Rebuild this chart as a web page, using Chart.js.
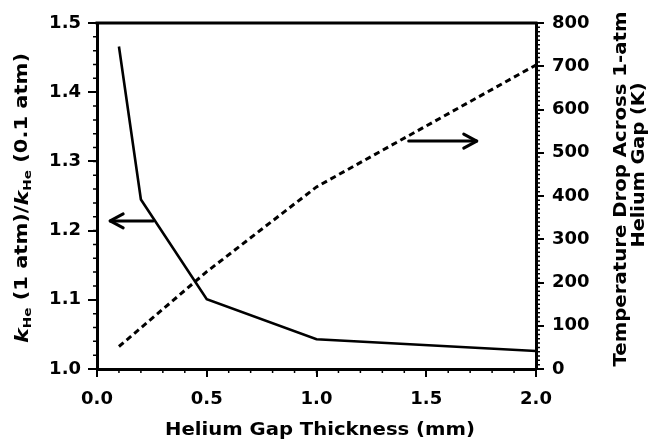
<!DOCTYPE html>
<html>
<head>
<meta charset="utf-8">
<script src="https://cdn.jsdelivr.net/npm/chart.js@4/dist/chart.umd.min.js"></script>
<style>
  html, body { margin: 0; padding: 0; background: #fff; }
  #c { display: block; }
</style>
</head>
<body>
<canvas id="c" width="650" height="440"></canvas>
<script>
// ---- data ----
const gapThickness = [0.1, 0.2, 0.5, 1.0, 2.0];            // mm
const conductivityRatio = [1.466, 1.245, 1.101, 1.043, 1.026]; // kHe(1 atm)/kHe(0.1 atm)
const tempGap = [0.1, 0.2, 0.5, 1.0, 2.0];                 // mm
const tempDrop = [52, 95, 225, 421, 703];                   // K
const xTickValues = [0.0, 0.5, 1.0, 1.5, 2.0];
const leftTickValues = [1.0, 1.1, 1.2, 1.3, 1.4, 1.5];
const rightTickValues = [0, 100, 200, 300, 400, 500, 600, 700, 800];
const xTitle = 'Helium Gap Thickness (mm)';
const rightTitle = ['Temperature Drop Across 1-atm', 'Helium Gap (K)'];
// arrows pointing to the axis each curve belongs to
const leftArrow = { fromX: 0.255, toX: 0.06, y: 1.214 };
const rightArrow = { fromX: 1.42, toX: 1.73, y: 527 };

const FONT = '"DejaVu Sans", "Liberation Sans", Arial, sans-serif';
const tickFont = { family: FONT, size: 18, weight: 'bold' };

function drawArrow(ctx, x1, y1, x2, y2) {
  const dir = Math.sign(x2 - x1);
  ctx.beginPath();
  ctx.moveTo(x1, y1);
  ctx.lineTo(x2, y2);
  ctx.stroke();
  ctx.beginPath();
  ctx.moveTo(x2 - dir * 13, y2 - 7);
  ctx.lineTo(x2, y2);
  ctx.lineTo(x2 - dir * 13, y2 + 7);
  ctx.stroke();
}

// draw a run of text segments centred at (cx, cy), rotated, stretched to a given length
function drawRun(ctx, segs, cx, cy, angle, length) {
  let total = 0;
  segs.forEach(s => { ctx.font = s.f; s.w = ctx.measureText(s.t).width; total += s.w; });
  ctx.save();
  ctx.translate(cx, cy);
  ctx.rotate(angle);
  ctx.scale(length / total, 1);
  ctx.textAlign = 'left';
  ctx.textBaseline = 'middle';
  let x = -total / 2;
  segs.forEach(s => { ctx.font = s.f; ctx.fillText(s.t, x, s.dy || 0); x += s.w; });
  ctx.restore();
}

const decorPlugin = {
  id: 'decor',
  afterDraw(chart) {
    const ctx = chart.ctx;
    const a = chart.chartArea;
    const xs = chart.scales.x, yl = chart.scales.y, yr = chart.scales.y1;
    ctx.save();
    ctx.strokeStyle = '#000';
    ctx.fillStyle = '#000';
    // top frame line
    ctx.lineWidth = 3;
    ctx.beginPath();
    ctx.moveTo(a.left - 1.5, a.top);
    ctx.lineTo(a.right + 1.5, a.top);
    ctx.stroke();
    // minor ticks (outside)
    ctx.lineWidth = 1.5;
    ctx.beginPath();
    for (let i = 0; i <= 20; i++) {
      const px = xs.getPixelForValue(i / 10);
      ctx.moveTo(px, a.bottom); ctx.lineTo(px, a.bottom + 4);
    }
    for (let i = 0; i <= 25; i++) {
      const py = yl.getPixelForValue(1 + i * 0.02);
      ctx.moveTo(a.left, py); ctx.lineTo(a.left - 4, py);
    }
    for (let i = 0; i <= 80; i++) {
      const py = yr.getPixelForValue(i * 10);
      ctx.moveTo(a.right, py); ctx.lineTo(a.right + 4, py);
    }
    ctx.stroke();
    // arrows
    ctx.lineWidth = 3;
    ctx.lineCap = 'round';
    ctx.lineJoin = 'round';
    drawArrow(ctx, xs.getPixelForValue(leftArrow.fromX), yl.getPixelForValue(leftArrow.y),
                   xs.getPixelForValue(leftArrow.toX), yl.getPixelForValue(leftArrow.y));
    drawArrow(ctx, xs.getPixelForValue(rightArrow.fromX), yr.getPixelForValue(rightArrow.y),
                   xs.getPixelForValue(rightArrow.toX), yr.getPixelForValue(rightArrow.y));

    // x title
    drawRun(ctx, [{ t: xTitle, f: 'bold 18px ' + FONT }], 320, 430, 0, 310);

    // left title with italic k and subscript He
    drawRun(ctx, [
      { t: 'k', f: 'italic bold 18px ' + FONT },
      { t: 'He', f: 'bold 11px ' + FONT, dy: 5 },
      { t: ' (1 atm)/', f: 'bold 17px ' + FONT },
      { t: 'k', f: 'italic bold 18px ' + FONT },
      { t: 'He', f: 'bold 11px ' + FONT, dy: 5 },
      { t: ' (0.1 atm)', f: 'bold 17px ' + FONT }
    ], 23, 198, -Math.PI / 2, 290);

    // right title (reads bottom to top), two lines
    drawRun(ctx, [{ t: rightTitle[0], f: 'bold 17px ' + FONT }], 622, 189, -Math.PI / 2, 355);
    drawRun(ctx, [{ t: rightTitle[1], f: 'bold 17px ' + FONT }], 640, 165, -Math.PI / 2, 165);
    ctx.restore();
  }
};

new Chart(document.getElementById('c').getContext('2d'), {
  type: 'line',
  data: {
    datasets: [
      {
        data: gapThickness.map((x, i) => ({ x: x, y: conductivityRatio[i] })),
        yAxisID: 'y',
        borderColor: '#000',
        borderWidth: 2.6,
        pointRadius: 0,
        tension: 0,
        fill: false
      },
      {
        data: tempGap.map((x, i) => ({ x: x, y: tempDrop[i] })),
        yAxisID: 'y1',
        borderColor: '#000',
        borderWidth: 3,
        borderDash: [6, 4],
        pointRadius: 0,
        tension: 0,
        fill: false
      }
    ]
  },
  options: {
    responsive: false,
    animation: false,
    layout: { padding: { top: 23, left: 0, right: 0, bottom: 0 } },
    plugins: { legend: { display: false }, tooltip: { enabled: false } },
    scales: {
      x: {
        type: 'linear', min: 0, max: 2,
        afterBuildTicks: s => { s.ticks = xTickValues.map(v => ({ value: v })); },
        afterFit: s => { s.height = 71; },
        ticks: { color: '#000', font: tickFont, padding: 12, callback: v => Number(v).toFixed(1), maxRotation: 0 },
        grid: { drawOnChartArea: false, drawTicks: true, tickLength: 8, color: '#000', lineWidth: 2 },
        border: { display: true, color: '#000', width: 3 }
      },
      y: {
        type: 'linear', position: 'left', min: 1.0, max: 1.5,
        afterBuildTicks: s => { s.ticks = leftTickValues.map(v => ({ value: v })); },
        afterFit: s => { s.width = 97; },
        ticks: { color: '#000', font: tickFont, padding: 7, callback: v => Number(v).toFixed(1) },
        grid: { drawOnChartArea: false, drawTicks: true, tickLength: 9, color: '#000', lineWidth: 2 },
        border: { display: true, color: '#000', width: 3 }
      },
      y1: {
        type: 'linear', position: 'right', min: 0, max: 800,
        afterBuildTicks: s => { s.ticks = rightTickValues.map(v => ({ value: v })); },
        afterFit: s => { s.width = 114; },
        ticks: { color: '#000', font: tickFont, padding: 8, callback: v => String(v) },
        grid: { drawOnChartArea: false, drawTicks: true, tickLength: 8, color: '#000', lineWidth: 2 },
        border: { display: true, color: '#000', width: 3 }
      }
    }
  },
  plugins: [decorPlugin]
});
</script>
</body>
</html>
